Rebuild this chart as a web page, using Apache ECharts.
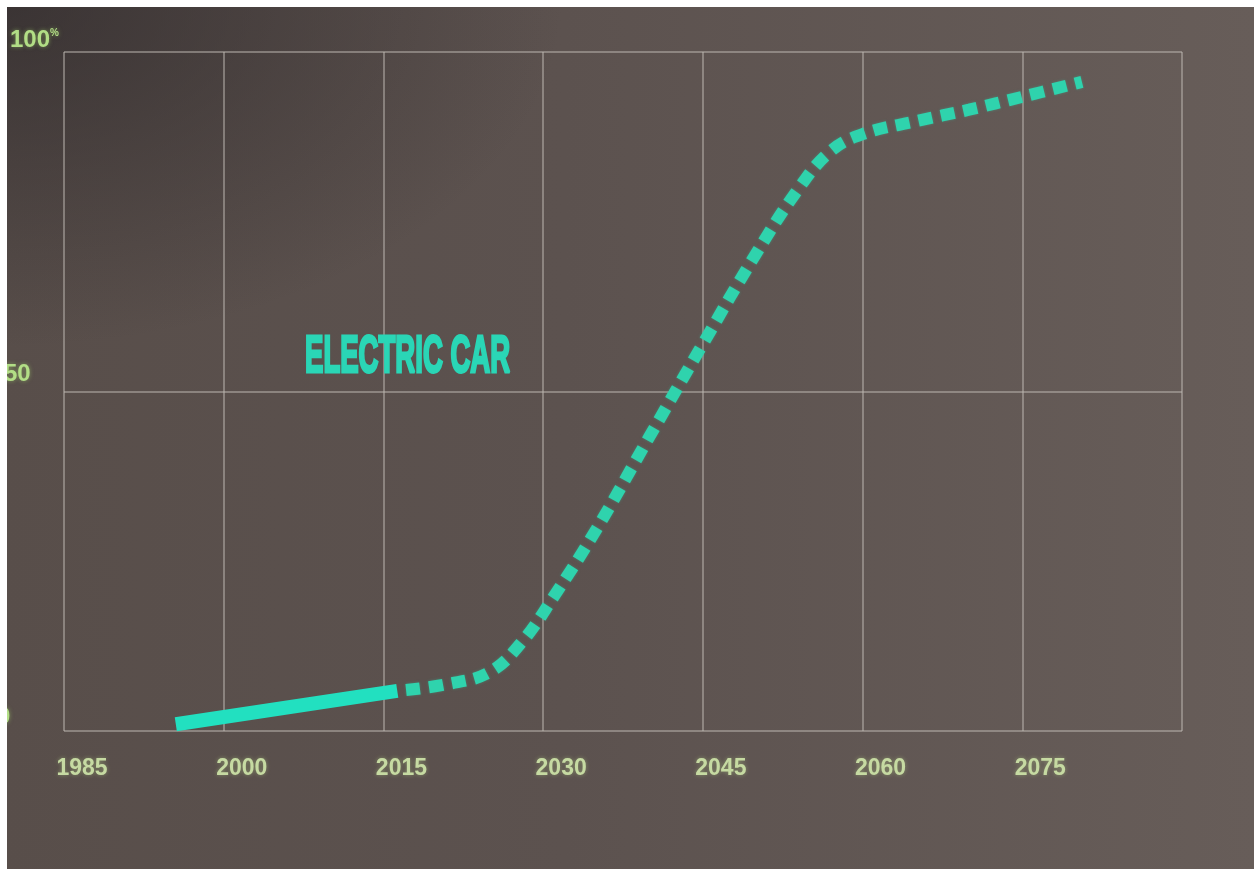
<!DOCTYPE html>
<html>
<head>
<meta charset="utf-8">
<title>Electric car share</title>
<script src="https://cdn.jsdelivr.net/npm/echarts@6/dist/echarts.min.js"></script>
<style>
  html, body { margin: 0; padding: 0; background: #ffffff; }
  #chart {
    position: absolute; left: 0; top: 0; width: 1254px; height: 869px;
    background:
      radial-gradient(ellipse 45% 40% at 0% 0%, rgba(45,40,42,0.7), rgba(45,40,42,0) 100%),
      linear-gradient(90deg, #584e4a 0%, #5c524f 45%, #675d59 100%);
  }
  .edge { position: absolute; background: #ffffff; z-index: 5; }
</style>
</head>
<body>
<div id="chart"></div>
<div class="edge" style="left:0;top:0;width:1254px;height:7px;"></div>
<div class="edge" style="left:0;top:0;width:7px;height:869px;"></div>
<script>
// Year axis: first labelled year, step and last grid line
const yearStart = 1985;
const yearStep = 15;
const yearEnd = 2090;
const shareTicks = [0, 50, 100];

// Recorded share of electric cars (solid segment)
const historyYears = [1995.5, 2016.3];
const historyShare = [1.0, 5.9];

// Projected share (dotted segment)
const forecastYears = [2016.3, 2021, 2025, 2028, 2031, 2035, 2040, 2045, 2050, 2054, 2057, 2060, 2065, 2070, 2075, 2080.6];
const forecastShare = [5.9, 6.9, 8.7, 13.1, 19.8, 29.7, 43.4, 57.0, 70.3, 79.9, 85.4, 87.9, 89.8, 91.5, 93.4, 95.6];

const seriesLabel = 'ELECTRIC CAR';

// x values are measured in years after the first labelled year
const toPairs = (years, values) => years.map((y, i) => [y - yearStart, values[i]]);

const chart = echarts.init(document.getElementById('chart'), null, { renderer: 'canvas' });

const gridColor = 'rgba(190,184,178,0.5)';
const teal = '#2fd3ad';
const labelFont = '"Liberation Sans", Arial, sans-serif';
const yLabelColor = '#b2de86';

chart.setOption({
  animation: false,
  backgroundColor: 'transparent',
  grid: { left: 64, right: 72, top: 52, bottom: 138, containLabel: false, outerBoundsMode: 'none' },
  xAxis: {
    type: 'value',
    min: 0,
    max: yearEnd - yearStart,
    interval: yearStep,
    axisLine: { show: false },
    axisTick: { show: false },
    splitLine: { show: true, lineStyle: { color: gridColor, width: 2 } },
    axisLabel: {
      margin: 26,
      padding: [0, 0, 0, 36],
      color: '#c6daa2',
      fontFamily: labelFont,
      fontWeight: 'bold',
      fontSize: 23,
      textShadowColor: 'rgba(190,225,140,0.45)',
      textShadowBlur: 4,
      formatter: v => (v + yearStart >= yearEnd ? '' : String(v + yearStart))
    }
  },
  yAxis: {
    type: 'value',
    min: shareTicks[0],
    max: shareTicks[shareTicks.length - 1],
    interval: shareTicks[1] - shareTicks[0],
    axisLine: { show: false },
    axisTick: { show: false },
    splitLine: { show: true, lineStyle: { color: gridColor, width: 2 } },
    axisLabel: {
      align: 'left',
      verticalAlign: 'bottom',
      margin: 70,
      color: yLabelColor,
      fontFamily: labelFont,
      fontWeight: 'bold',
      fontSize: 24,
      textShadowColor: 'rgba(170,225,110,0.5)',
      textShadowBlur: 4,
      formatter: v => v === 100 ? '{a|100}{p|%}' : v === 50 ? '{b|50}' : '{c|0}',
      rich: {
        a: { padding: [0, 0, 0, 16], fontSize: 24, fontWeight: 'bold', color: yLabelColor, fontFamily: labelFont },
        p: { fontSize: 10, verticalAlign: 'top', padding: [0, 0, 12, 0], color: yLabelColor, fontFamily: labelFont },
        b: { padding: [0, 0, 5, 10], fontSize: 24, fontWeight: 'bold', color: yLabelColor, fontFamily: labelFont },
        c: { padding: [0, 0, 2, 3], fontSize: 24, fontWeight: 'bold', color: yLabelColor, fontFamily: labelFont }
      }
    }
  },
  series: [
    {
      name: 'history',
      type: 'line',
      data: toPairs(historyYears, historyShare),
      showSymbol: false,
      lineStyle: { color: '#22e0c0', width: 14, cap: 'butt' },
      z: 3
    },
    {
      name: 'forecast',
      type: 'line',
      data: toPairs(forecastYears, forecastShare),
      showSymbol: false,
      smooth: 0.4,
      lineStyle: { color: teal, width: 12, type: [14, 9], dashOffset: 14, cap: 'butt',
                   shadowColor: 'rgba(47,211,173,0.35)', shadowBlur: 3 },
      z: 3
    }
  ],
  graphic: [
    {
      type: 'text',
      x: 305,
      y: 358,
      scaleX: 0.53,
      scaleY: 1,
      style: {
        text: seriesLabel,
        fill: '#2ad6b6',
        stroke: '#2ad6b6',
        lineWidth: 3,
        font: 'bold 52px "Liberation Sans", Arial, sans-serif',
        textAlign: 'left',
        textVerticalAlign: 'middle',
        shadowColor: 'rgba(42,214,182,0.45)',
        shadowBlur: 4
      },
      z: 10
    }
  ]
});
</script>
</body>
</html>
